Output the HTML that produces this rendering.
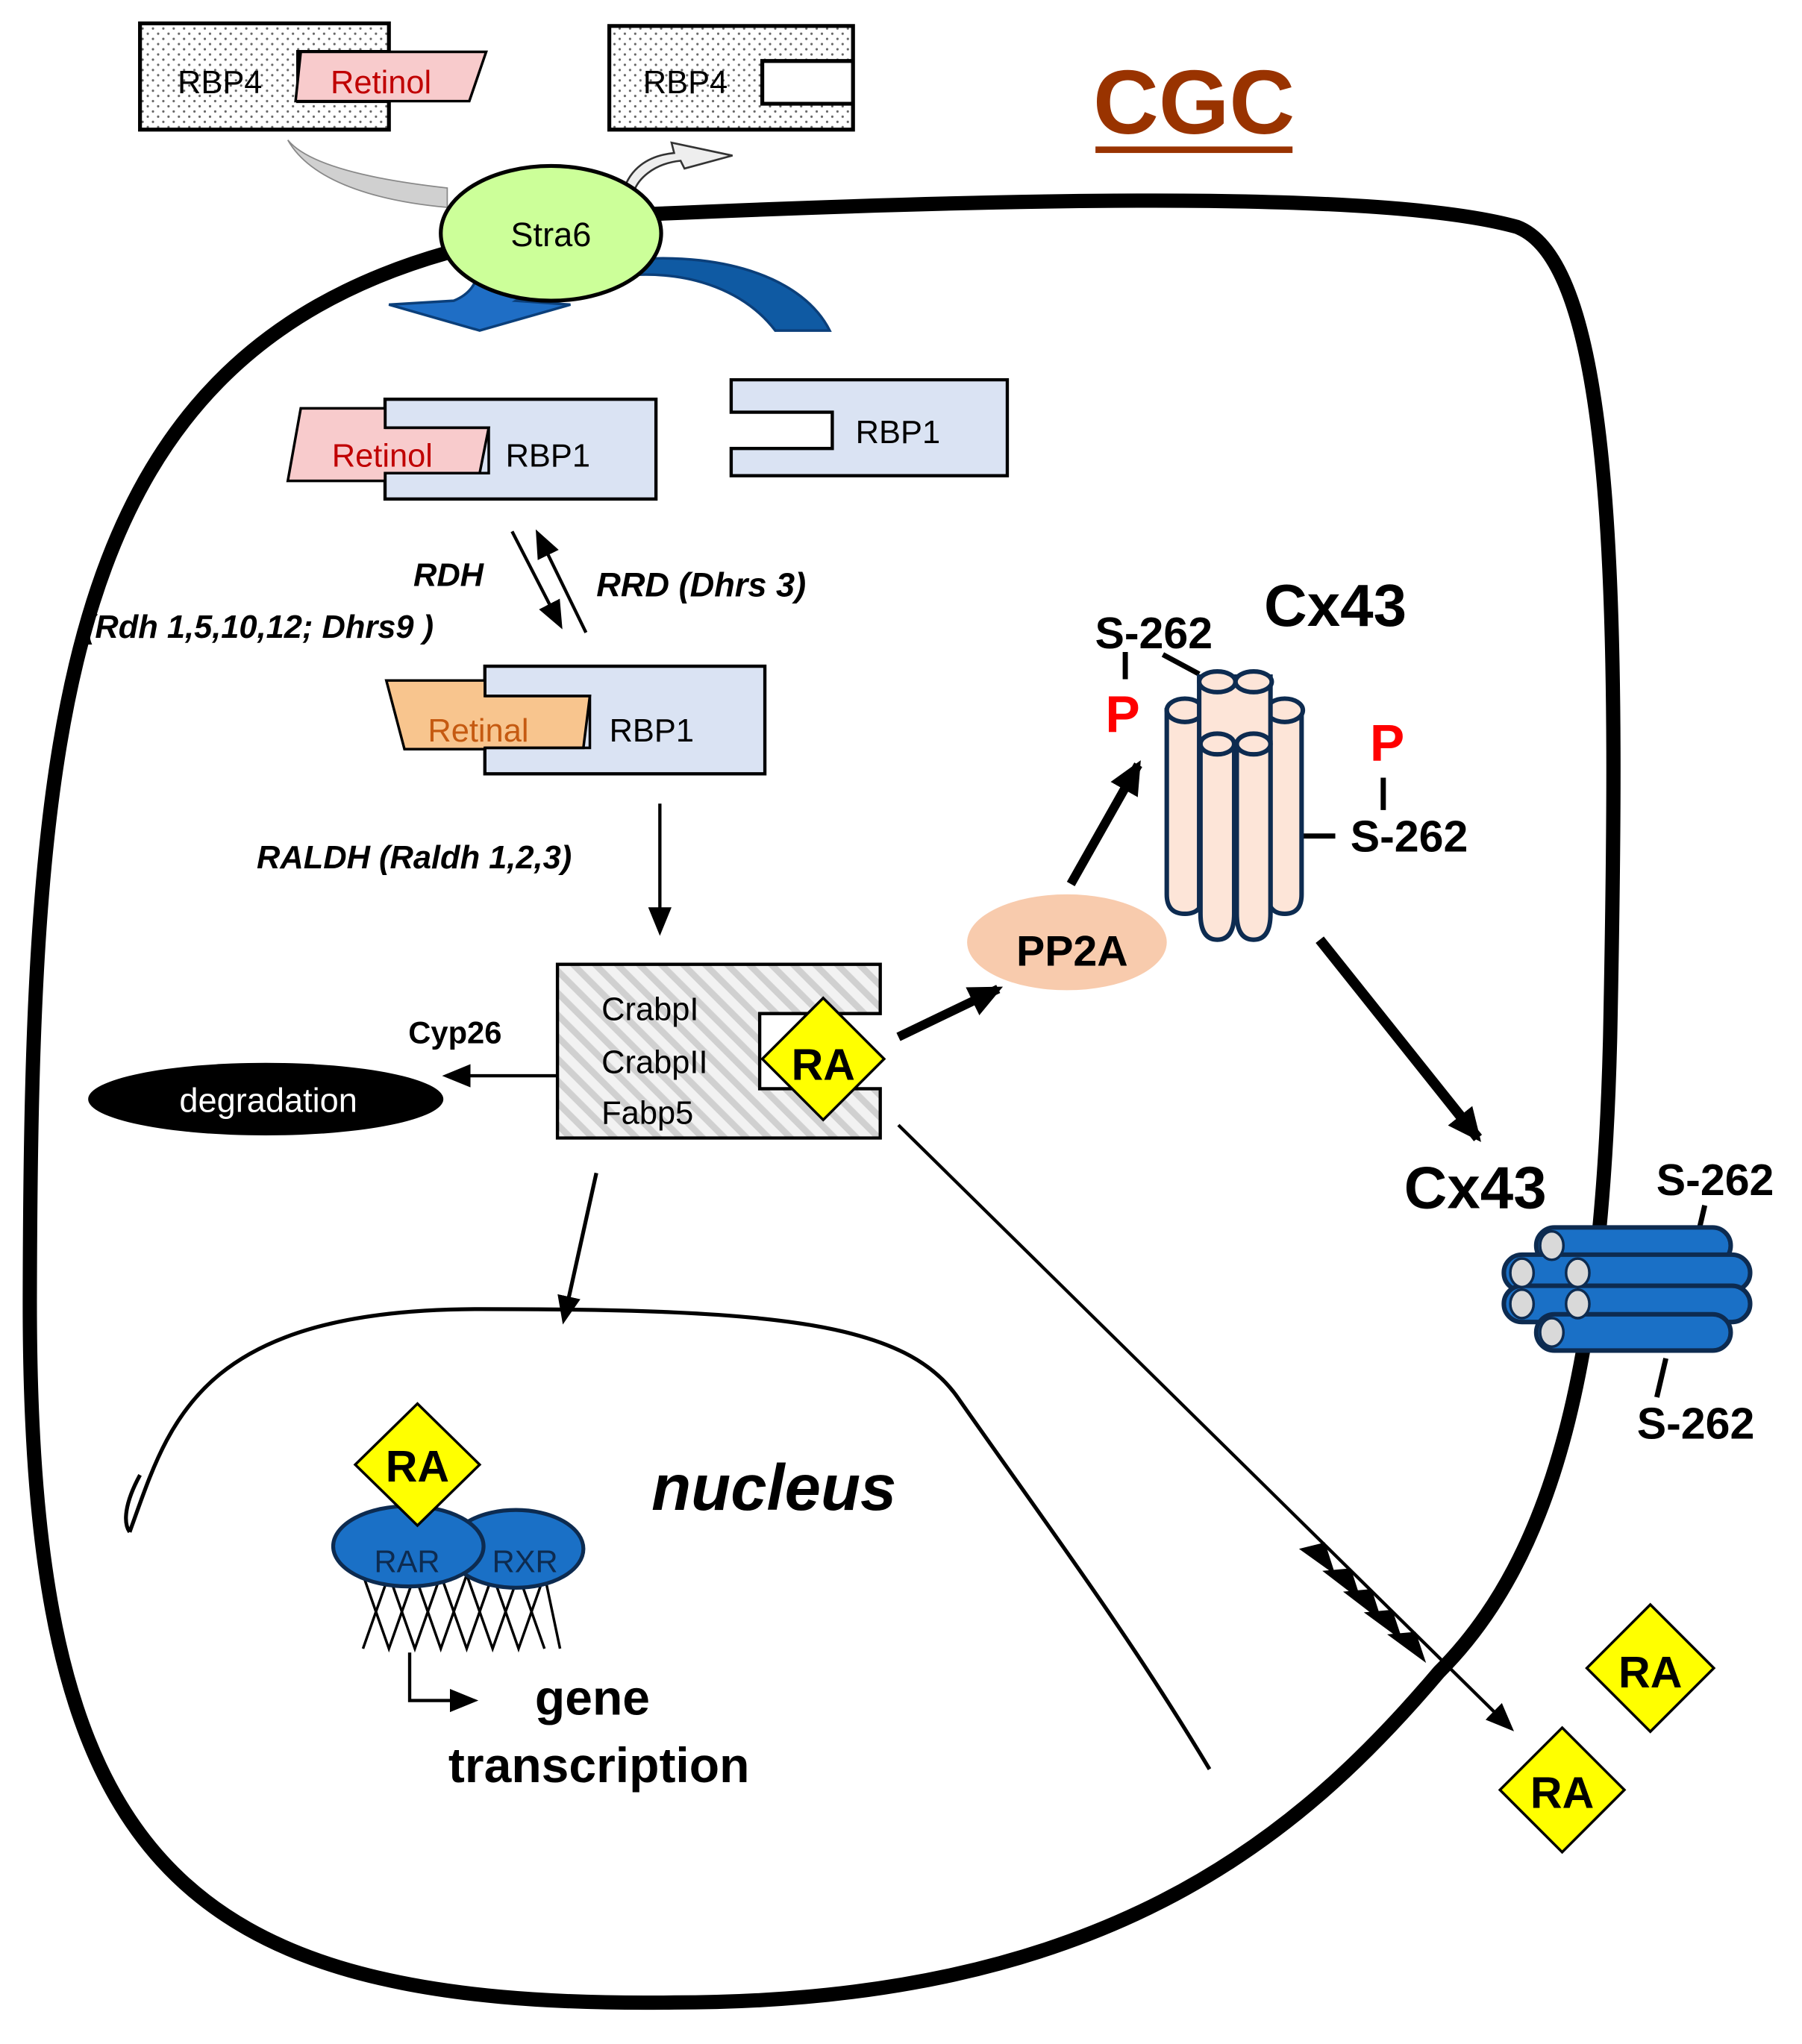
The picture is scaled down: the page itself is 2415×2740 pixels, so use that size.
<!DOCTYPE html>
<html><head><meta charset="utf-8"><style>html,body{margin:0;padding:0;background:#fff}svg{display:block}</style></head>
<body>
<svg width="2415" height="2740" viewBox="0 0 1390 1577" xmlns="http://www.w3.org/2000/svg" font-family="'Liberation Sans','DejaVu Sans',sans-serif">
<defs>
<pattern id="dots" width="8" height="8" patternUnits="userSpaceOnUse"><rect width="8" height="8" fill="#fff"/><circle cx="2" cy="2" r="0.9" fill="#666"/><circle cx="6" cy="6" r="0.9" fill="#666"/></pattern>
<pattern id="hatch" width="12" height="12" patternUnits="userSpaceOnUse" patternTransform="rotate(-45)"><rect width="12" height="12" fill="#f2f2f2"/><rect width="5" height="12" fill="#d0d0d0"/></pattern>
<marker id="ahs" markerWidth="22" markerHeight="22" refX="18" refY="11" orient="auto" markerUnits="userSpaceOnUse"><path d="M0,2 L22,11 L0,20 z" fill="#000"/></marker>
<marker id="ahb" markerWidth="28" markerHeight="28" refX="22" refY="14" orient="auto" markerUnits="userSpaceOnUse"><path d="M0,2 L26,14 L0,26 z" fill="#000"/></marker>
</defs>
<rect width="1390" height="1577" fill="#fff"/>

<!-- cell -->
<path d="M505 165 C 850 150 1080 150 1170 175 C 1250 205 1248 500 1242 800 C 1236 1050 1200 1200 1110 1290 C 1000 1420 850 1545 520 1545 C 130 1550 22 1430 23 1000 C 24 560 45 280 345 195" fill="none" stroke="#000" stroke-width="11"/>

<!-- CGC -->
<text x="921" y="103" font-size="70" font-weight="bold" fill="#993300" text-anchor="middle">CGC</text>
<rect x="845" y="113" width="152" height="5" fill="#993300"/>

<!-- RBP4 with retinol -->
<path d="M108 18 H300 V40 H230 V78 H300 V100 H108 Z" fill="url(#dots)" stroke="#000" stroke-width="3"/>
<path d="M232 40 H375 L362 78 H228 Z" fill="#f8cbcc" stroke="#000" stroke-width="2"/>
<text x="137" y="72" font-size="25">RBP4</text>
<text x="255" y="72" font-size="25" fill="#c00000">Retinol</text>
<path d="M470 20 H658 V100 H470 Z M588 47 V80 H658 V47 Z" fill="url(#dots)" fill-rule="evenodd" stroke="#000" stroke-width="3"/>
<text x="496" y="72" font-size="25">RBP4</text>

<!-- grey arrows -->
<path d="M222 108 C 240 130 300 140 345 145 L 345 160 C 290 155 240 140 222 108 Z" fill="#d0d0d0" stroke="#888"/>
<path d="M480 150 C 485 130 500 120 520 118 L 518 110 L 565 120 L 528 130 L 525 124 C 505 126 490 138 488 152 Z" fill="#eee" stroke="#333" stroke-width="1.5"/>

<!-- blue arrows -->
<path d="M370 200 C 370 220 360 228 350 232 L 300 235 L 370 255 L 440 235 L 398 232 C 410 225 410 210 400 200 Z" fill="#1f6ec5" stroke="#0b3f7a" stroke-width="2"/>
<path d="M490 200 C 560 195 620 215 640 255 L 598 255 C 575 225 535 210 490 212 Z" fill="#0f5aa3" stroke="#0b3f7a" stroke-width="2"/>

<!-- Stra6 -->
<ellipse cx="425" cy="180" rx="85" ry="52" fill="#ccff99" stroke="#000" stroke-width="3"/>
<text x="425" y="190" font-size="26" text-anchor="middle">Stra6</text>

<!-- RBP1 with retinol -->
<path d="M297 308 H506 V385 H297 Z" fill="#dae3f3" stroke="#000" stroke-width="2.5"/>
<path d="M232 315 H297 V330 H377 L370 365 H297 V371 H222 Z" fill="#f8cbcc" stroke="#000" stroke-width="2"/>
<path d="M297 330 H377 V365 H297" fill="none" stroke="#000" stroke-width="2"/>
<text x="256" y="360" font-size="25" fill="#c00000">Retinol</text>
<text x="390" y="360" font-size="25">RBP1</text>
<path d="M564 293 H777 V367 H564 V346 H642 V318 H564 Z" fill="#dae3f3" stroke="#000" stroke-width="2.5"/>
<text x="660" y="342" font-size="25">RBP1</text>

<!-- RDH arrows -->
<line x1="395" y1="410" x2="432" y2="482" stroke="#000" stroke-width="2.5" marker-end="url(#ahs)"/>
<line x1="452" y1="488" x2="415" y2="412" stroke="#000" stroke-width="2.5" marker-end="url(#ahs)"/>
<text x="373" y="452" font-size="25" font-weight="bold" font-style="italic" text-anchor="end">RDH</text>
<text x="65" y="492" font-size="25" font-weight="bold" font-style="italic">(Rdh 1,5,10,12; Dhrs9 )</text>
<text x="460" y="460" font-size="26" font-weight="bold" font-style="italic">RRD (Dhrs 3)</text>

<!-- RBP1 with retinal -->
<path d="M374 514 H590 V597 H374 Z" fill="#dae3f3" stroke="#000" stroke-width="2.5"/>
<path d="M298 525 H374 V537 H455 L450 577 H374 V578 H312 Z" fill="#f8c58e" stroke="#000" stroke-width="2"/>
<path d="M374 537 H455 V577 H374" fill="none" stroke="#000" stroke-width="2"/>
<text x="330" y="572" font-size="25" fill="#c55a11">Retinal</text>
<text x="470" y="572" font-size="25">RBP1</text>

<!-- RALDH -->
<text x="198" y="670" font-size="25" font-weight="bold" font-style="italic">RALDH (Raldh 1,2,3)</text>
<line x1="509" y1="620" x2="509" y2="718" stroke="#000" stroke-width="2.5" marker-end="url(#ahs)"/>

<!-- Crabp box -->
<path d="M430 744 H679 V782 H586 V840 H679 V878 H430 Z" fill="url(#hatch)" stroke="#000" stroke-width="2.5"/>
<text x="464" y="787" font-size="25">CrabpI</text>
<text x="464" y="828" font-size="25">CrabpII</text>
<text x="464" y="867" font-size="25">Fabp5</text>
<path d="M635 770 L682 817 L635 864 L588 817 Z" fill="#ffff00" stroke="#000" stroke-width="2"/>
<text x="635" y="833" font-size="34" font-weight="bold" text-anchor="middle">RA</text>

<!-- degradation -->
<text x="315" y="805" font-size="24" font-weight="bold">Cyp26</text>
<line x1="430" y1="830" x2="345" y2="830" stroke="#000" stroke-width="2.5" marker-end="url(#ahs)"/>
<ellipse cx="205" cy="848" rx="137" ry="28" fill="#000"/>
<text x="207" y="858" font-size="26" fill="#fff" text-anchor="middle">degradation</text>

<!-- arrows to PP2A and P -->
<line x1="693" y1="800" x2="770" y2="763" stroke="#000" stroke-width="7" marker-end="url(#ahb)"/>
<ellipse cx="823" cy="727" rx="77" ry="37" fill="#f8cbad"/>
<text x="827" y="745" font-size="33" font-weight="bold" text-anchor="middle">PP2A</text>
<line x1="826" y1="682" x2="878" y2="590" stroke="#000" stroke-width="7" marker-end="url(#ahb)"/>

<!-- Cx43 label & S-262 -->
<text x="1030" y="483" font-size="46" font-weight="bold" text-anchor="middle">Cx43</text>
<text x="890" y="500" font-size="34" font-weight="bold" text-anchor="middle">S-262</text>
<line x1="868" y1="503" x2="868" y2="524" stroke="#000" stroke-width="4"/>
<line x1="897" y1="505" x2="925" y2="520" stroke="#000" stroke-width="4"/>
<text x="866" y="565" font-size="40" font-weight="bold" fill="#ff0000" text-anchor="middle">P</text>
<text x="1070" y="587" font-size="40" font-weight="bold" fill="#ff0000" text-anchor="middle">P</text>
<line x1="1067" y1="600" x2="1067" y2="625" stroke="#000" stroke-width="4"/>
<line x1="1005" y1="645" x2="1030" y2="645" stroke="#000" stroke-width="4"/>
<text x="1087" y="657" font-size="34" font-weight="bold" text-anchor="middle">S-262</text>

<!-- hemichannel vertical -->
<g fill="#fde5d8" stroke="#0d2b50" stroke-width="3.5">
<path d="M900 548 V690 Q900 705 914 705 Q928 705 928 690 V548 Z"/>
<path d="M978 548 V690 Q978 705 991 705 Q1004 705 1004 690 V548 Z"/>
<ellipse cx="914" cy="548" rx="14" ry="9"/>
<ellipse cx="991" cy="548" rx="14" ry="9"/>
<path d="M925 522 V700 H980 V522 Z"/>
<ellipse cx="939" cy="526" rx="14" ry="8"/>
<ellipse cx="967" cy="526" rx="14" ry="8"/>
<path d="M926 573 V705 Q926 725 939 725 Q952 725 952 705 V573 Z"/>
<path d="M954 573 V705 Q954 725 967 725 Q980 725 980 705 V573 Z"/>
<ellipse cx="939" cy="574" rx="13" ry="8"/>
<ellipse cx="967" cy="574" rx="13" ry="8"/>
</g>

<line x1="1018" y1="725" x2="1140" y2="878" stroke="#000" stroke-width="8" marker-end="url(#ahb)"/>

<!-- Cx43 horizontal -->
<text x="1138" y="932" font-size="46" font-weight="bold" text-anchor="middle">Cx43</text>
<text x="1323" y="922" font-size="34" font-weight="bold" text-anchor="middle">S-262</text>
<line x1="1315" y1="930" x2="1308" y2="960" stroke="#000" stroke-width="4"/>
<line x1="1285" y1="1048" x2="1278" y2="1078" stroke="#000" stroke-width="4"/>
<text x="1308" y="1110" font-size="34" font-weight="bold" text-anchor="middle">S-262</text>
<g fill="#1a70c6" stroke="#0d2b50" stroke-width="3.5">
<rect x="1185" y="947" width="150" height="28" rx="14"/>
<rect x="1160" y="968" width="190" height="28" rx="14"/>
<rect x="1160" y="992" width="190" height="28" rx="14"/>
<rect x="1185" y="1014" width="150" height="28" rx="14"/>
</g>
<g fill="#d9d9d9" stroke="#0d2b50" stroke-width="2">
<ellipse cx="1197" cy="961" rx="9" ry="11"/>
<ellipse cx="1174" cy="982" rx="9" ry="11"/>
<ellipse cx="1217" cy="982" rx="9" ry="11"/>
<ellipse cx="1174" cy="1006" rx="9" ry="11"/>
<ellipse cx="1217" cy="1006" rx="9" ry="11"/>
<ellipse cx="1197" cy="1028" rx="9" ry="11"/>
</g>

<!-- nucleus -->
<line x1="460" y1="905" x2="435" y2="1018" stroke="#000" stroke-width="3" marker-end="url(#ahs)"/>
<path d="M108 1138 C 96 1160 95 1175 100 1182 M 100 1182 C 130 1100 150 1010 370 1010 C 600 1010 700 1020 740 1080 C 810 1180 870 1260 933 1365" fill="none" stroke="#000" stroke-width="3"/>
<text x="597" y="1165" font-size="50" font-weight="bold" font-style="italic" text-anchor="middle">nucleus</text>

<!-- RAR/RXR -->
<g stroke="#000" stroke-width="2" fill="none">
<path d="M280 1215 L300 1272 L320 1215 L340 1272 L360 1215 L380 1272 L400 1215 L420 1272"/>
<path d="M280 1272 L300 1215 L320 1272 L340 1215 L360 1272 L380 1215 L400 1272 L420 1215 L432 1272"/>
</g>
<ellipse cx="398" cy="1195" rx="52" ry="30" fill="#1a70c6" stroke="#0d2b50" stroke-width="3"/>
<ellipse cx="315" cy="1193" rx="58" ry="31" fill="#1a70c6" stroke="#0d2b50" stroke-width="3"/>
<text x="314" y="1213" font-size="24" fill="#0d2b50" text-anchor="middle">RAR</text>
<text x="405" y="1213" font-size="24" fill="#0d2b50" text-anchor="middle">RXR</text>
<path d="M322 1083 L370 1130 L322 1177 L274 1130 Z" fill="#ffff00" stroke="#000" stroke-width="2"/>
<text x="322" y="1143" font-size="34" font-weight="bold" text-anchor="middle">RA</text>
<path d="M316 1275 V1312 H365" fill="none" stroke="#000" stroke-width="2.5" marker-end="url(#ahs)"/>
<text x="457" y="1323" font-size="38" font-weight="bold" text-anchor="middle">gene</text>
<text x="462" y="1375" font-size="38" font-weight="bold" text-anchor="middle">transcription</text>

<!-- secretion arrow -->
<line x1="693" y1="868" x2="1165" y2="1333" stroke="#000" stroke-width="2.5" marker-end="url(#ahs)"/>
<g fill="#000">
<path d="M1030 1215 L1002 1195 L1022 1190 Z"/>
<path d="M1050 1235 L1020 1212 L1042 1210 Z"/>
<path d="M1066 1251 L1036 1228 L1058 1226 Z"/>
<path d="M1082 1266 L1052 1244 L1074 1242 Z"/>
<path d="M1100 1283 L1070 1261 L1092 1259 Z"/>
</g>

<!-- external RA -->
<path d="M1273 1238 L1322 1287 L1273 1336 L1224 1287 Z" fill="#ffff00" stroke="#000" stroke-width="2"/>
<text x="1273" y="1302" font-size="34" font-weight="bold" text-anchor="middle">RA</text>
<path d="M1205 1333 L1253 1381 L1205 1429 L1157 1381 Z" fill="#ffff00" stroke="#000" stroke-width="2"/>
<text x="1205" y="1395" font-size="34" font-weight="bold" text-anchor="middle">RA</text>
</svg>
</body></html>
